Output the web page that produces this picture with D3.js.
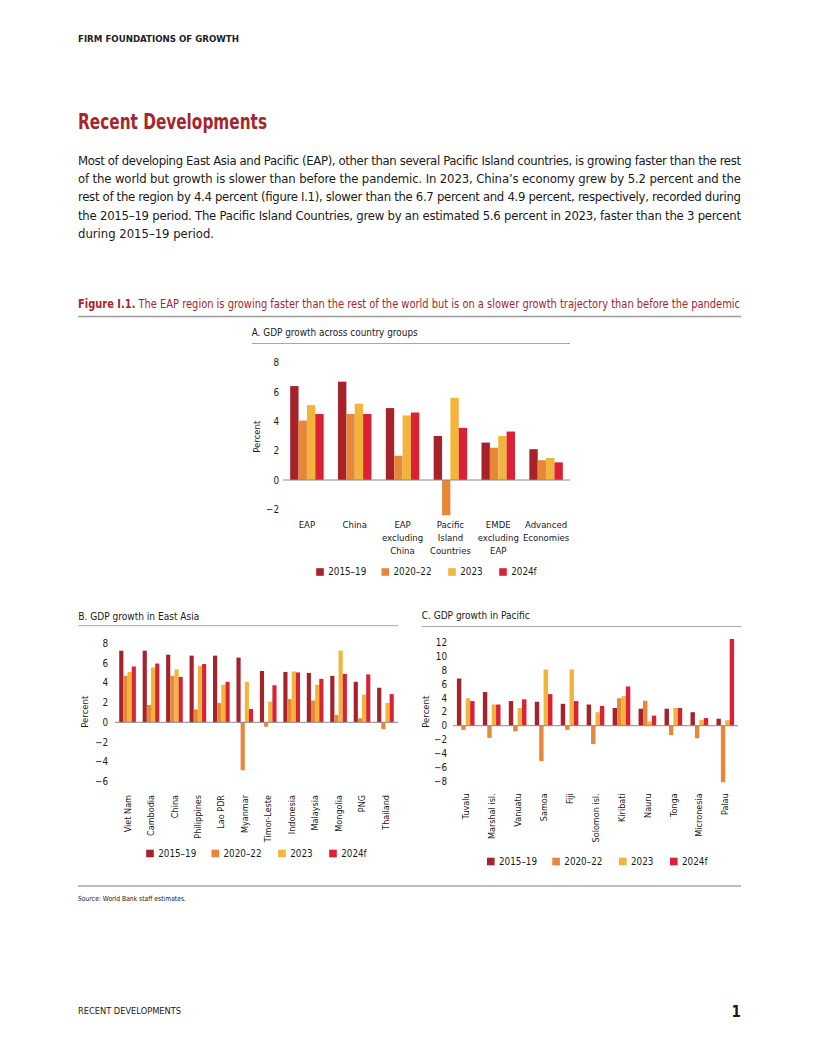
<!DOCTYPE html>
<html lang="en">
<head>
<meta charset="UTF-8">
<title>Recent Developments</title>
<script src="https://d3js.org/d3.v7.min.js"></script>
<style>
  body { margin: 0; background: #fff; }
  svg { display: block; font-family: "Liberation Sans Narrow", "DejaVu Sans Condensed", Roboto, sans-serif; }
</style>
</head>
<body>
<svg id="page" width="816" height="1056"></svg>
<script>
// series shared by all three panels
const seriesNames = ["2015–19", "2020–22", "2023", "2024f"];
const seriesColors = ["#A6232C", "#E8873A", "#F2B43A", "#DA2236"];

// Panel A: country groups
const groupsA = ["EAP", "China", "EAP excluding China", "Pacific Island Countries", "EMDE excluding EAP", "Advanced Economies"];
const groupLinesA = [["EAP"], ["China"], ["EAP", "excluding", "China"], ["Pacific", "Island", "Countries"], ["EMDE", "excluding", "EAP"], ["Advanced", "Economies"]];
const a2015 = [6.4, 6.7, 4.9, 3.0, 2.55, 2.1];
const a2020 = [4.05, 4.5, 1.65, -2.4, 2.2, 1.35];
const a2023 = [5.1, 5.2, 4.4, 5.6, 3.0, 1.5];
const a2024 = [4.5, 4.5, 4.6, 3.55, 3.3, 1.2];
const ticksA = [-2, 0, 2, 4, 6, 8];

// Panel B: East Asia
const countriesB = ["Viet Nam", "Cambodia", "China", "Philippines", "Lao PDR", "Myanmar", "Timor-Leste", "Indonesia", "Malaysia", "Mongolia", "PNG", "Thailand"];
const b2015 = [7.25, 7.25, 6.85, 6.75, 6.75, 6.55, 5.2, 5.1, 5.0, 4.7, 4.1, 3.5];
const b2020 = [4.7, 1.75, 4.7, 1.3, 1.95, -4.85, -0.45, 2.35, 2.2, 0.75, 0.4, -0.7];
const b2023 = [5.1, 5.55, 5.35, 5.7, 3.8, 4.1, 2.1, 5.15, 3.8, 7.25, 2.8, 1.95];
const b2024 = [5.65, 5.95, 4.6, 5.9, 4.1, 1.35, 3.75, 5.05, 4.4, 4.9, 4.85, 2.85];
const ticksB = [-6, -4, -2, 0, 2, 4, 6, 8];

// Panel C: Pacific
const countriesC = ["Tuvalu", "Marshal isl.", "Vanuatu", "Samoa", "Fiji", "Solomon isl.", "Kiribati", "Nauru", "Tonga", "Micronesia", "Palau"];
const c2015 = [6.8, 4.85, 3.55, 3.45, 3.15, 3.05, 2.55, 2.45, 2.45, 1.95, 1.0];
const c2020 = [-0.6, -1.75, -0.8, -5.1, -0.6, -2.65, 3.95, 3.6, -1.35, -1.8, -8.15];
const c2023 = [3.95, 3.05, 2.55, 8.1, 8.1, 1.95, 4.25, 0.6, 2.55, 0.8, 0.8];
const c2024 = [3.55, 3.05, 3.8, 4.55, 3.55, 2.85, 5.65, 1.45, 2.55, 1.1, 12.5];
const ticksC = [-8, -6, -4, -2, 0, 2, 4, 6, 8, 10, 12];

const bodyLines = [
  "Most of developing East Asia and Pacific (EAP), other than several Pacific Island countries, is growing faster than the rest",
  "of the world but growth is slower than before the pandemic. In 2023, China\u2019s economy grew by 5.2 percent and the",
  "rest of the region by 4.4 percent (figure I.1), slower than the 6.7 percent and 4.9 percent, respectively, recorded during",
  "the 2015\u201319 period. The Pacific Island Countries, grew by an estimated 5.6 percent in 2023, faster than the 3 percent",
  "during 2015\u201319 period."
];

const svg = d3.select("#page");
const red = "#A6262E";
const ink = "#1a1a1a";

function addText(x, y, str, opts) {
  const t = svg.append("text").attr("x", x).attr("y", y).text(str)
    .attr("font-size", opts.size).attr("fill", opts.fill || ink);
  if (opts.weight) t.attr("font-weight", opts.weight);
  if (opts.len) t.attr("textLength", opts.len).attr("lengthAdjust", opts.adjust || "spacingAndGlyphs");
  if (opts.anchor) t.attr("text-anchor", opts.anchor);
  return t;
}

// page header and text
addText(78, 42, "FIRM FOUNDATIONS OF GROWTH", {size: 8.5, weight: "bold", fill: "#222", len: 161});
addText(78, 129, "Recent Developments", {size: 21, weight: "bold", fill: red, len: 189});
const bodyBase = [164.5, 183, 201.3, 219.7, 238];
bodyLines.forEach((l, i) => {
  addText(78, bodyBase[i], l, {size: 13, len: i < 4 ? 663 : 136, adjust: i < 4 ? "spacing" : "spacingAndGlyphs"});
});

// figure title
const ft = svg.append("text").attr("x", 78).attr("y", 308).attr("font-size", 12).attr("fill", red)
  .attr("textLength", 662).attr("lengthAdjust", "spacingAndGlyphs");
ft.append("tspan").attr("font-weight", "bold").text("Figure I.1.");
ft.append("tspan").text(" The EAP region is growing faster than the rest of the world but is on a slower growth trajectory than before the pandemic");
svg.append("line").attr("x1", 78).attr("x2", 741).attr("y1", 316.5).attr("y2", 316.5)
  .attr("stroke", "#9a9a9a").attr("stroke-width", 1.3);

function legend(x0, yc) {
  const offs = [0, 65.3, 132, 183];
  seriesNames.forEach((s, i) => {
    svg.append("rect").attr("x", x0 + offs[i] - 0.5).attr("y", yc - 3.8).attr("width", 7.6).attr("height", 7.6)
      .attr("fill", seriesColors[i]);
    svg.append("text").attr("x", x0 + offs[i] + 11.5).attr("y", yc).attr("dy", "0.35em")
      .attr("font-size", 9.8).attr("fill", ink).text(s);
  });
}

function drawPanel(o) {
  const g = svg.append("g");
  // title + underline
  g.append("text").attr("x", o.titleX).attr("y", o.titleY).attr("font-size", 11).attr("fill", ink)
    .attr("textLength", o.titleLen).attr("lengthAdjust", "spacingAndGlyphs").text(o.title);
  g.append("line").attr("x1", o.titleX).attr("x2", o.ruleEnd).attr("y1", o.ruleY).attr("y2", o.ruleY)
    .attr("stroke", "#a8a8a8").attr("stroke-width", 1);

  const x = d3.scaleBand().domain(o.cats).range(o.xr).paddingInner(o.pi).paddingOuter(o.po);
  const xs = d3.scaleBand().domain(seriesNames).range([0, x.bandwidth()]);
  const y = d3.scaleLinear().domain(o.yd).range(o.yr);

  seriesNames.forEach((s, si) => {
    g.append("g").selectAll("rect").data(o.values[si]).enter().append("rect")
      .attr("x", (d, i) => x(o.cats[i]) + xs(s))
      .attr("y", d => y(Math.max(0, d)))
      .attr("width", xs.bandwidth())
      .attr("height", d => Math.abs(y(d) - y(0)))
      .attr("fill", seriesColors[si]);
  });

  g.append("line").attr("x1", o.xr[0]).attr("x2", o.zeroEnd).attr("y1", y(0)).attr("y2", y(0))
    .attr("stroke", "#8a8a8a").attr("stroke-width", 1);

  const ax = g.append("g").attr("transform", `translate(${o.xr[0]},0)`)
    .call(d3.axisLeft(y).tickValues(o.ticks).tickSize(0).tickPadding(o.tickPad)
      .tickFormat(d => d < 0 ? "\u2212" + Math.abs(d) : d));
  ax.attr("font-family", null).attr("font-size", null);
  ax.select(".domain").remove();
  ax.selectAll("text").attr("font-size", 9.8).attr("fill", ink);

  g.append("text").attr("transform", `translate(${o.pctX},${o.pctY}) rotate(-90)`)
    .attr("text-anchor", "middle").attr("dy", "0.35em").attr("font-size", 9.5).attr("fill", ink)
    .text("Percent");

  if (o.lines) {
    o.cats.forEach((c, i) => {
      o.lines[i].forEach((ln, j) => {
        g.append("text").attr("x", x(c) + x.bandwidth() / 2).attr("y", o.labelY + j * 13)
          .attr("dy", "0.35em").attr("text-anchor", "middle").attr("font-size", 9.5).attr("fill", ink)
          .text(ln);
      });
    });
  } else {
    o.cats.forEach(c => {
      g.append("text")
        .attr("transform", `translate(${x(c) + x.bandwidth() / 2},${o.labelY}) rotate(-90)`)
        .attr("text-anchor", "end").attr("dy", "0.35em").attr("font-size", 9).attr("fill", ink)
        .text(c);
    });
  }
  legend(o.legX, o.legY);
}

drawPanel({
  title: "A. GDP growth across country groups", titleX: 251.7, titleY: 336, titleLen: 166,
  ruleY: 343.5, ruleEnd: 570,
  cats: groupsA, lines: groupLinesA, values: [a2015, a2020, a2023, a2024],
  xr: [283, 570], pi: 0.3, po: 0.15, zeroEnd: 570,
  yd: [0, 8], yr: [480, 362.6], ticks: ticksA, tickPad: 4,
  pctX: 256.7, pctY: 436.7, labelY: 524.3,
  legX: 316.7, legY: 572
});

drawPanel({
  title: "B. GDP growth in East Asia", titleX: 78.3, titleY: 619.5, titleLen: 121,
  ruleY: 625.7, ruleEnd: 398,
  cats: countriesB, values: [b2015, b2020, b2023, b2024],
  xr: [115, 398], pi: 0.29, po: 0.18, zeroEnd: 398,
  yd: [0, 8], yr: [722.3, 643.3], ticks: ticksB, tickPad: 7,
  pctX: 84.3, pctY: 711.7, labelY: 795,
  legX: 146.7, legY: 853.5
});

drawPanel({
  title: "C. GDP growth in Pacific", titleX: 421.7, titleY: 619, titleLen: 108,
  ruleY: 626.5, ruleEnd: 741,
  cats: countriesC, values: [c2015, c2020, c2023, c2024],
  xr: [453, 738], pi: 0.32, po: 0.15, zeroEnd: 738,
  yd: [0, 12], yr: [725.7, 642.4], ticks: ticksC, tickPad: 6,
  pctX: 426, pctY: 711.7, labelY: 793.3,
  legX: 487.5, legY: 861.5
});

// bottom rule, source, footer
svg.append("line").attr("x1", 78).attr("x2", 741).attr("y1", 886).attr("y2", 886)
  .attr("stroke", "#a8a8a8").attr("stroke-width", 1.5);
const src = svg.append("text").attr("x", 78).attr("y", 900.5).attr("font-size", 7).attr("fill", ink)
  .attr("textLength", 108).attr("lengthAdjust", "spacingAndGlyphs");
src.append("tspan").attr("font-style", "italic").text("Source:");
src.append("tspan").text(" World Bank staff estimates.");

addText(78, 1014, "RECENT DEVELOPMENTS", {size: 8, fill: ink, len: 103});
addText(741, 1016.5, "1", {size: 15, weight: "bold", fill: ink, anchor: "end"});
</script>
</body>
</html>
